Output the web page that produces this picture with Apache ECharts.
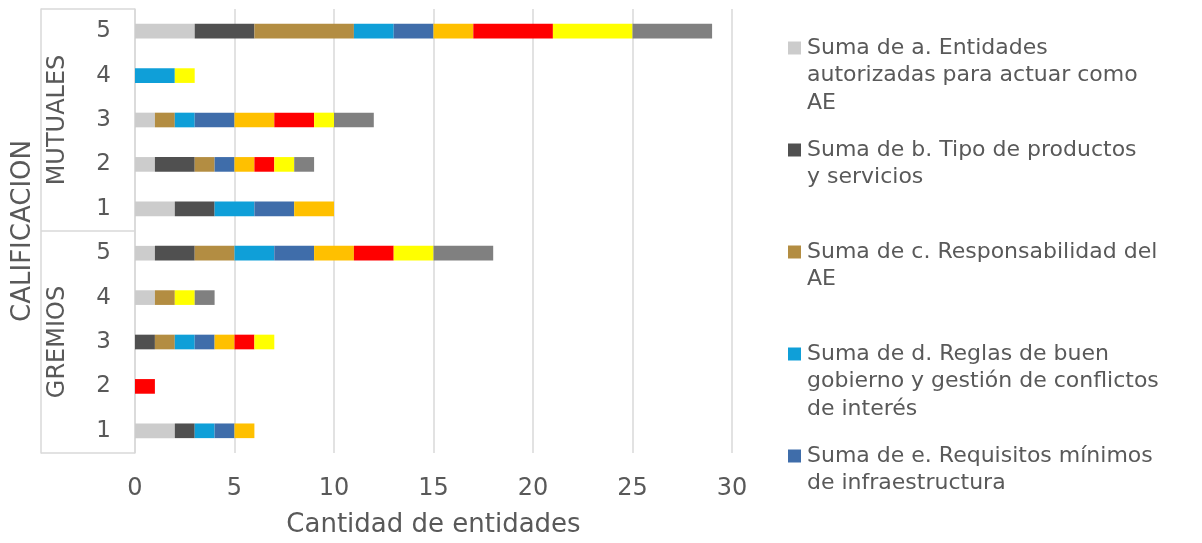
<!DOCTYPE html>
<html>
<head>
<meta charset="utf-8">
<style>
  html, body { margin: 0; padding: 0; background: #ffffff; }
  #chart { width: 1202px; height: 543px; }
</style>
<script src="https://cdn.jsdelivr.net/npm/echarts@6/dist/echarts.min.js"></script>
</head>
<body>
<div id="chart"></div>
<script>
// Categories, bottom to top: GREMIOS 1..5, then MUTUALES 1..5
const GROUPS = ['GREMIOS', 'MUTUALES'];
const RATINGS = ['1', '2', '3', '4', '5'];
const CATEGORIES = ['G1', 'G2', 'G3', 'G4', 'G5', 'M1', 'M2', 'M3', 'M4', 'M5'];

// X axis ticks
const X_MIN = 0;
const X_MAX = 30;
const X_STEP = 5;

// One series per criterion (values in CATEGORIES order)
const SERIES_NAMES = [
  'Suma de a. Entidades autorizadas para actuar como AE',
  'Suma de b. Tipo de productos y servicios',
  'Suma de c. Responsabilidad del AE',
  'Suma de d. Reglas de buen gobierno y gestión de conflictos de interés',
  'Suma de e. Requisitos mínimos de infraestructura',
  'Suma de f.',
  'Suma de g.',
  'Suma de h.',
  'Suma de i.'
];
const A_VALUES = [2, 0, 0, 1, 1, 2, 1, 1, 0, 3];
const B_VALUES = [1, 0, 1, 0, 2, 2, 2, 0, 0, 3];
const C_VALUES = [0, 0, 1, 1, 2, 0, 1, 1, 0, 5];
const D_VALUES = [1, 0, 1, 0, 2, 2, 0, 1, 2, 2];
const E_VALUES = [1, 0, 1, 0, 2, 2, 1, 2, 0, 2];
const F_VALUES = [1, 0, 1, 0, 2, 2, 1, 2, 0, 2];
const G_VALUES = [0, 1, 1, 0, 2, 0, 1, 2, 0, 4];
const H_VALUES = [0, 0, 1, 1, 2, 0, 1, 1, 1, 4];
const I_VALUES = [0, 0, 0, 1, 3, 0, 1, 2, 0, 4];
const SERIES_VALUES = [A_VALUES, B_VALUES, C_VALUES, D_VALUES, E_VALUES,
                       F_VALUES, G_VALUES, H_VALUES, I_VALUES];

const COLORS = ['#CCCCCC', '#505050', '#B38D42', '#0F9FD8', '#3F6DAA',
                '#FFC000', '#FF0000', '#FFFF00', '#808080'];

// Legend entries (only the first five fit in the legend box), wrapped per line
const LEGEND_COUNT = 5;
const LEGEND_LINES = [
  ['Suma de a. Entidades', 'autorizadas para actuar como', 'AE'],
  ['Suma de b. Tipo de productos', 'y servicios'],
  ['Suma de c. Responsabilidad del', 'AE'],
  ['Suma de d. Reglas de buen', 'gobierno y gestión de conflictos', 'de interés'],
  ['Suma de e. Requisitos mínimos', 'de infraestructura']
];

const FONT = '"DejaVu Sans", Verdana, sans-serif';
const TEXT_COLOR = '#595959';
const LINE_COLOR = '#D9D9D9';

const chart = echarts.init(document.getElementById('chart'), null, { renderer: 'canvas' });

const rich = {
  gap: { width: 6 },
  ind: { width: 19 },
  t: { fontSize: 22, lineHeight: 27.5, color: TEXT_COLOR, fontFamily: FONT }
};
for (let i = 0; i < LEGEND_COUNT; i++) {
  rich['sq' + i] = { width: 13, height: 13, backgroundColor: COLORS[i] };
}

const option = {
  animation: false,
  backgroundColor: '#ffffff',
  textStyle: { fontFamily: FONT },
  grid: { left: 135, right: 470, top: 9, bottom: 84, containLabel: false },
  legend: {
    orient: 'vertical',
    left: 778,
    top: 32,
    itemGap: 25,
    itemWidth: 0,
    itemHeight: 0,
    icon: 'none',
    selectedMode: false,
    data: SERIES_NAMES.slice(0, LEGEND_COUNT),
    formatter: function (name) {
      const i = SERIES_NAMES.indexOf(name);
      const lines = LEGEND_LINES[i].slice();
      if (i < LEGEND_COUNT - 1) { while (lines.length < 3) lines.push(' '); }
      let out = '{sq' + i + '|}{gap|}{t|' + lines[0] + '}';
      for (let k = 1; k < lines.length; k++) out += '\n{ind|}{t|' + lines[k] + '}';
      return out;
    },
    textStyle: { rich: rich, color: TEXT_COLOR, fontFamily: FONT }
  },
  xAxis: {
    type: 'value',
    min: X_MIN,
    max: X_MAX,
    interval: X_STEP,
    axisLine: { show: false },
    axisTick: { show: false },
    splitLine: { show: true, lineStyle: { color: LINE_COLOR, width: 1.5 } },
    axisLabel: { color: TEXT_COLOR, fontSize: 24, margin: 24, fontFamily: FONT },
    name: 'Cantidad de entidades',
    nameLocation: 'middle',
    nameGap: 59,
    nameTextStyle: { color: TEXT_COLOR, fontSize: 26, fontFamily: FONT }
  },
  yAxis: [
    {
      type: 'category',
      data: CATEGORIES,
      axisLine: { show: true, lineStyle: { color: LINE_COLOR, width: 1.5 } },
      axisTick: { show: false },
      axisLabel: {
        color: TEXT_COLOR, fontSize: 23, margin: 24, fontFamily: FONT,
        formatter: function (v) { return RATINGS[CATEGORIES.indexOf(v) % RATINGS.length]; }
      }
    },
    {
      type: 'category',
      data: GROUPS,
      position: 'left',
      offset: 94,
      axisLine: { show: true, lineStyle: { color: LINE_COLOR, width: 1.5 } },
      axisTick: { show: true, inside: true, length: 94, lineStyle: { color: LINE_COLOR, width: 1.5 } },
      axisLabel: {
        inside: true, rotate: 90, margin: 5,
        color: TEXT_COLOR, fontSize: 24, fontFamily: FONT
      },
      name: 'CALIFICACION',
      nameLocation: 'middle',
      nameGap: 5,
      nameTextStyle: { color: TEXT_COLOR, fontSize: 26, fontFamily: FONT }
    }
  ],
  series: SERIES_NAMES.map(function (name, i) {
    return {
      name: name,
      type: 'bar',
      stack: 'total',
      yAxisIndex: 0,
      barWidth: '33%',
      itemStyle: { color: COLORS[i] },
      data: SERIES_VALUES[i]
    };
  })
};

chart.setOption(option);
</script>
</body>
</html>
